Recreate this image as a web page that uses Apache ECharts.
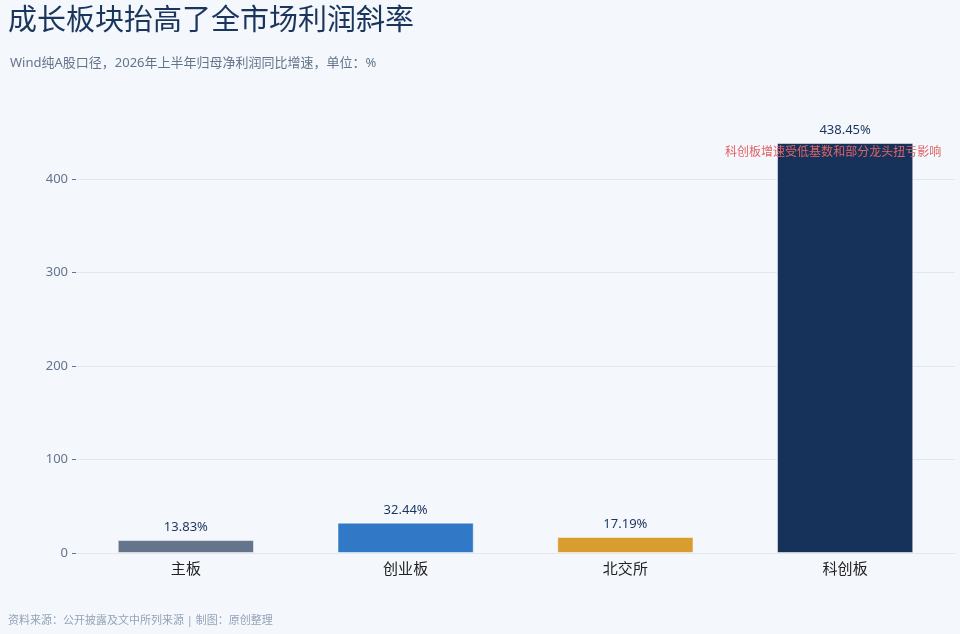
<!DOCTYPE html>
<html>
<head>
<meta charset="utf-8">
<script src="https://cdn.jsdelivr.net/npm/echarts@6/dist/echarts.min.js"></script>
<style>
  html, body { margin: 0; padding: 0; background: #f4f7fc; }
  #chart { width: 960px; height: 634px; }
</style>
</head>
<body>
<div id="chart"></div>
<script>
const categories = ['主板', '创业板', '北交所', '科创板'];
const growth = [13.83, 32.44, 17.19, 438.45];
const barColors = ['#64748b', '#3178c6', '#d89c2f', '#16325a'];
const yTicks = [0, 100, 200, 300, 400];
const note = '科创板增速受低基数和部分龙头扭亏影响';

let myChart = echarts.init(document.getElementById('chart'));
const font = '"Noto Sans", "Noto Sans CJK SC", sans-serif';

let option = {
    backgroundColor: '#f4f7fc',
    textStyle: { fontFamily: font },
    title: [{
        text: '成长板块抬高了全市场利润斜率',
        left: 3,
        top: 2,
        textStyle: { fontSize: 29, fontWeight: 'normal', color: '#1b365d', fontFamily: font }
    }, {
        text: 'Wind纯A股口径，2026年上半年归母净利润同比增速，单位：%',
        left: 5,
        top: 52,
        textStyle: { fontSize: 13, fontWeight: 'normal', color: '#64748b', fontFamily: font }
    }, {
        text: '资料来源：公开披露及文中所列来源 | 制图：原创整理',
        left: 3,
        bottom: 3,
        textStyle: { fontSize: 11, fontWeight: 'normal', color: '#94a3b8', fontFamily: font }
    }],
    grid: {
        left: 76,
        right: 5,
        top: 143,
        bottom: 81
    },
    xAxis: {
        type: 'category',
        data: categories,
        axisLine: { lineStyle: { color: '#e2e8f0' } },
        axisTick: { alignWithLabel: true, length: 5, lineStyle: { color: '#333' } },
        axisLabel: { color: '#222', fontSize: 15, margin: 9 }
    },
    yAxis: {
        type: 'value',
        min: 0,
        max: 'dataMax',
        interval: 100,
        axisLine: { show: false },
        axisTick: { show: true, length: 4, customValues: yTicks, lineStyle: { color: '#64748b' } },
        axisLabel: { color: '#64748b', fontSize: 13, margin: 8, customValues: yTicks },
        splitLine: { lineStyle: { color: '#e2e8f0' } }
    },
    series: [{
        type: 'bar',
        barWidth: '62%',
        data: growth.map((v, i) => ({
            value: v,
            itemStyle: { color: barColors[i] }
        })),
        itemStyle: { borderColor: 'rgba(255,255,255,0.5)', borderWidth: 1 },
        label: {
            show: true,
            position: 'top',
            distance: 6,
            color: '#1b365d',
            fontSize: 13,
            formatter: p => p.value.toFixed(2) + '%'
        },
        markPoint: {
            symbol: 'circle',
            symbolSize: 0,
            silent: true,
            data: [{
                coord: [categories[3], growth[3]],
                label: {
                    show: true,
                    formatter: note,
                    color: '#e06464',
                    fontSize: 12,
                    offset: [-12, 10]
                }
            }]
        }
    }]
};
myChart.setOption(option);
</script>
</body>
</html>
